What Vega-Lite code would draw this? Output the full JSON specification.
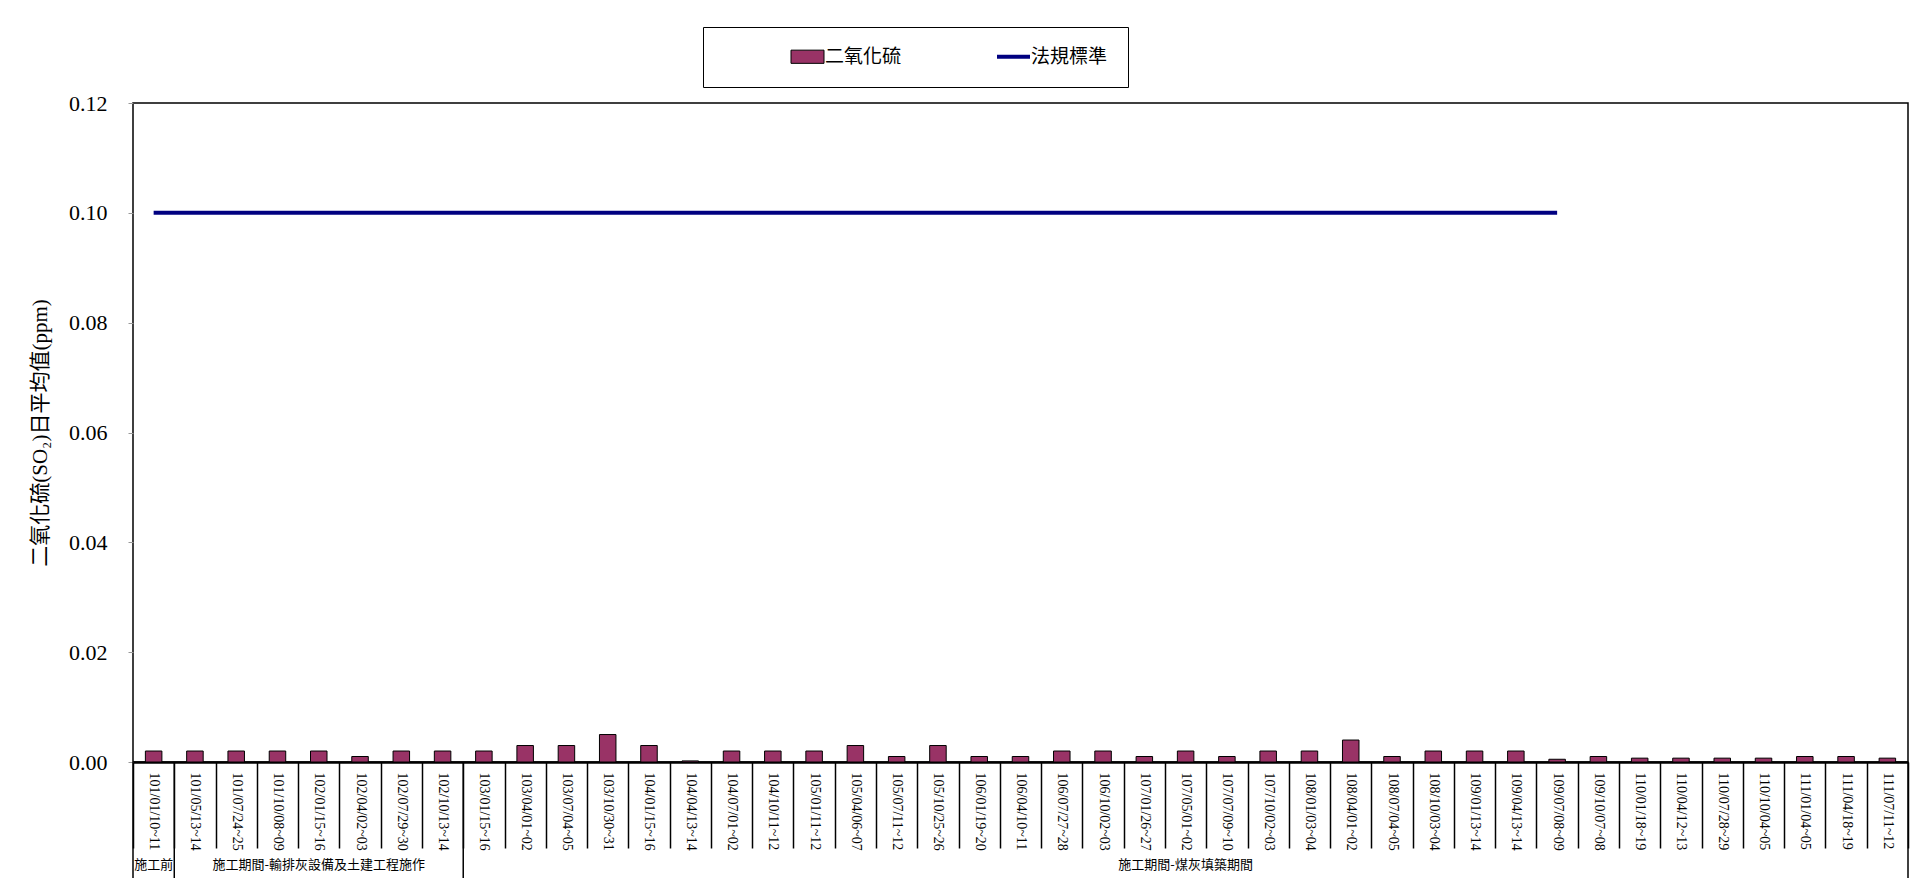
{
  "$schema": "https://vega.github.io/schema/vega-lite/v6.json",
  "autosize": "none",
  "width": 1775,
  "height": 659,
  "padding": {"left": 133, "top": 103, "right": 11, "bottom": 116},
  "background": "white",
  "config": {
    "view": {"stroke": "black", "strokeWidth": 1.5},
    "axis": {"grid": false}
  },
  "datasets": {
    "so2": [
      {"date": "101/01/10~11", "so2": 0.002, "std": 0.1},
      {"date": "101/05/13~14", "so2": 0.002, "std": 0.1},
      {"date": "101/07/24~25", "so2": 0.002, "std": 0.1},
      {"date": "101/10/08~09", "so2": 0.002, "std": 0.1},
      {"date": "102/01/15~16", "so2": 0.002, "std": 0.1},
      {"date": "102/04/02~03", "so2": 0.001, "std": 0.1},
      {"date": "102/07/29~30", "so2": 0.002, "std": 0.1},
      {"date": "102/10/13~14", "so2": 0.002, "std": 0.1},
      {"date": "103/01/15~16", "so2": 0.002, "std": 0.1},
      {"date": "103/04/01~02", "so2": 0.003, "std": 0.1},
      {"date": "103/07/04~05", "so2": 0.003, "std": 0.1},
      {"date": "103/10/30~31", "so2": 0.005, "std": 0.1},
      {"date": "104/01/15~16", "so2": 0.003, "std": 0.1},
      {"date": "104/04/13~14", "so2": 0.0002, "std": 0.1},
      {"date": "104/07/01~02", "so2": 0.002, "std": 0.1},
      {"date": "104/10/11~12", "so2": 0.002, "std": 0.1},
      {"date": "105/01/11~12", "so2": 0.002, "std": 0.1},
      {"date": "105/04/06~07", "so2": 0.003, "std": 0.1},
      {"date": "105/07/11~12", "so2": 0.001, "std": 0.1},
      {"date": "105/10/25~26", "so2": 0.003, "std": 0.1},
      {"date": "106/01/19~20", "so2": 0.001, "std": 0.1},
      {"date": "106/04/10~11", "so2": 0.001, "std": 0.1},
      {"date": "106/07/27~28", "so2": 0.002, "std": 0.1},
      {"date": "106/10/02~03", "so2": 0.002, "std": 0.1},
      {"date": "107/01/26~27", "so2": 0.001, "std": 0.1},
      {"date": "107/05/01~02", "so2": 0.002, "std": 0.1},
      {"date": "107/07/09~10", "so2": 0.001, "std": 0.1},
      {"date": "107/10/02~03", "so2": 0.002, "std": 0.1},
      {"date": "108/01/03~04", "so2": 0.002, "std": 0.1},
      {"date": "108/04/01~02", "so2": 0.004, "std": 0.1},
      {"date": "108/07/04~05", "so2": 0.001, "std": 0.1},
      {"date": "108/10/03~04", "so2": 0.002, "std": 0.1},
      {"date": "109/01/13~14", "so2": 0.002, "std": 0.1},
      {"date": "109/04/13~14", "so2": 0.002, "std": 0.1},
      {"date": "109/07/08~09", "so2": 0.0005, "std": 0.1},
      {"date": "109/10/07~08", "so2": 0.001, "std": null},
      {"date": "110/01/18~19", "so2": 0.0007, "std": null},
      {"date": "110/04/12~13", "so2": 0.0007, "std": null},
      {"date": "110/07/28~29", "so2": 0.0007, "std": null},
      {"date": "110/10/04~05", "so2": 0.0007, "std": null},
      {"date": "111/01/04~05", "so2": 0.001, "std": null},
      {"date": "111/04/18~19", "so2": 0.001, "std": null},
      {"date": "111/07/11~12", "so2": 0.0007, "std": null}
    ],
    "groups": [
      {"date": "101/01/10~11", "label": "施工前"},
      {"date": "102/01/15~16", "label": "施工期間-輸排灰設備及土建工程施作"},
      {"date": "107/05/01~02", "label": "施工期間-煤灰填築期間"}
    ],
    "dividersStart": [
      {"date": "101/01/10~11"},
      {"date": "101/05/13~14"},
      {"date": "103/01/15~16"}
    ],
    "dividersEnd": [
      {"date": "111/07/11~12"}
    ]
  },
  "layer": [
    {
      "data": {"name": "so2"},
      "mark": {"type": "bar", "width": {"band": 0.4}},
      "encoding": {
        "x": {
          "field": "date", "type": "nominal",
          "scale": {"paddingInner": 0, "paddingOuter": 0},
          "axis": {
            "title": null,
            "labelAngle": 90,
            "labelFont": "Liberation Serif",
            "labelFontSize": 14,
            "labelColor": "black",
            "labelOverlap": false,
            "labelPadding": -76,
            "tickBand": "extent",
            "tickSize": 86,
            "tickColor": "black",
            "tickWidth": 1.5,
            "domainColor": "black",
            "domainWidth": 2.5
          }
        },
        "y": {
          "field": "so2", "type": "quantitative",
          "scale": {"domain": [0, 0.12], "nice": false, "zero": true},
          "axis": {
            "title": "二氧化硫(SO₂)日平均值(ppm)",
            "titleFont": "Liberation Serif, Noto Sans CJK TC",
            "titleFontSize": 21,
            "titleFontWeight": "normal",
            "titleColor": "black",
            "titlePadding": 18,
            "values": [0, 0.02, 0.04, 0.06, 0.08, 0.1, 0.12],
            "format": ".2f",
            "labelFont": "Liberation Serif",
            "labelFontSize": 22,
            "labelColor": "black",
            "labelPadding": 21,
            "tickSize": 5,
            "tickColor": "#999999",
            "domain": false
          }
        },
        "color": {
          "datum": "二氧化硫",
          "scale": {"domain": ["二氧化硫", "法規標準"], "range": ["#993366", "#000080"]},
          "legend": {
            "title": null,
            "orient": "none",
            "legendX": 570,
            "legendY": -76,
            "direction": "horizontal",
            "padding": 20,
            "strokeColor": "black",
            "fillColor": "white",
            "columnPadding": 27,
            "labelFont": "Noto Sans CJK TC",
            "labelFontSize": 19,
            "labelColor": "black",
            "symbolSize": 1089,
            "symbolOffset": 75,
            "labelOffset": 8,
            "symbolType": {"expr": "datum.value === '二氧化硫' ? 'M-1,-0.4H1V0.4H-1Z' : 'stroke'"},
            "symbolStrokeColor": {"expr": "datum.value === '二氧化硫' ? '#000000' : '#000080'"},
            "symbolStrokeWidth": {"expr": "datum.value === '二氧化硫' ? 1 : 4"}
          }
        }
      }
    },
    {
      "data": {"name": "so2"},
      "mark": {"type": "bar", "width": {"band": 0.4}, "filled": false, "color": "black", "strokeWidth": 1},
      "encoding": {
        "x": {"field": "date", "type": "nominal"},
        "y": {"field": "so2", "type": "quantitative", "scale": {"domain": [0, 0.12], "nice": false}}
      }
    },
    {
      "data": {"name": "so2"},
      "mark": {"type": "line", "strokeWidth": 4, "color": "#000080"},
      "encoding": {
        "x": {"field": "date", "type": "nominal"},
        "y": {"field": "std", "type": "quantitative", "scale": {"domain": [0, 0.12], "nice": false}}
      }
    },
    {
      "data": {"name": "dividersStart"},
      "mark": {"type": "rule", "color": "black", "strokeWidth": 1.5},
      "encoding": {
        "x": {"field": "date", "type": "nominal", "bandPosition": 0},
        "y": {"datum": 0, "scale": {"domain": [0, 0.12], "nice": false}},
        "y2": {"datum": -0.03}
      }
    },
    {
      "data": {"name": "dividersEnd"},
      "mark": {"type": "rule", "color": "black", "strokeWidth": 1.5},
      "encoding": {
        "x": {"field": "date", "type": "nominal", "bandPosition": 1},
        "y": {"datum": 0, "scale": {"domain": [0, 0.12], "nice": false}},
        "y2": {"datum": -0.03}
      }
    },
    {
      "data": {"name": "groups"},
      "mark": {"type": "text", "font": "Noto Sans CJK TC", "fontSize": 13, "color": "black", "baseline": "middle", "align": "center"},
      "encoding": {
        "x": {"field": "date", "type": "nominal"},
        "y": {"datum": -0.01875, "scale": {"domain": [0, 0.12], "nice": false}},
        "text": {"field": "label"}
      }
    }
  ]
}
